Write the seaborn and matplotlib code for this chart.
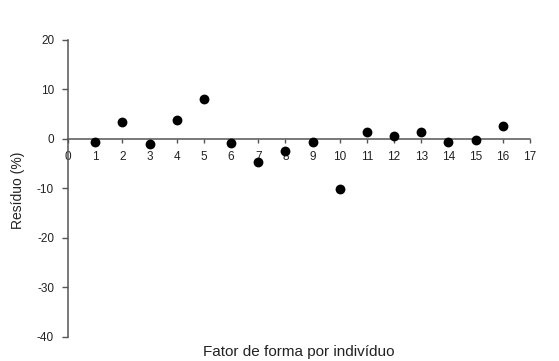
import matplotlib
matplotlib.use("Agg")
import matplotlib.pyplot as plt
import seaborn as sns
import pandas as pd

individuos = [1, 2, 3, 4, 5, 6, 7, 8, 9, 10, 11, 12, 13, 14, 15, 16]
residuos = [-0.6, 3.4, -1.0, 3.8, 8.0, -0.8, -4.6, -2.5, -0.7, -10.2, 1.4, 0.7, 1.4, -0.6, -0.2, 2.6]
x_ticks = list(range(0, 18))
y_ticks = [-40, -30, -20, -10, 0, 10, 20]

sns.set_theme(style="white")
plt.rcParams['font.family'] = ['Liberation Sans', 'DejaVu Sans']
plt.rcParams['axes.unicode_minus'] = False

df = pd.DataFrame({"x": individuos, "y": residuos})

fig = plt.figure(figsize=(5.59, 3.61), dpi=100)
ax = fig.add_axes([0.1216, 0.0665, 0.8265, 0.8227])
sns.scatterplot(data=df, x="x", y="y", ax=ax, color="black", s=50,
                edgecolor="black", linewidth=0, zorder=3, clip_on=False)

ax.set_xlim(0, 17)
ax.set_ylim(-40, 20)
ax.set_xticks(x_ticks)
ax.set_yticks(y_ticks)
ax.set_xticklabels([str(t) for t in x_ticks])

for s in ["top", "right"]:
    ax.spines[s].set_visible(False)
ax.spines["bottom"].set_position(("data", 0))
for s in ["left", "bottom"]:
    ax.spines[s].set_color("#555555")
    ax.spines[s].set_linewidth(1.1)

ax.tick_params(axis="both", which="both", direction="out", length=4,
               width=1.0, color="#555555", labelsize=8.5, labelcolor="#222222",
               left=True, bottom=True)
ax.tick_params(axis="x", length=3, pad=6)
ax.tick_params(axis="y", pad=6)

ax.set_xlabel("Fator de forma por indivíduo", fontsize=11, color="#222222", va="center")
ax.set_ylabel("Resíduo (%)", fontsize=10, color="#222222")
ax.xaxis.set_label_coords(0.5, -0.05)
ax.yaxis.set_label_coords(-0.093, 0.495)

fig.savefig("out.png", dpi=100, facecolor="white")
